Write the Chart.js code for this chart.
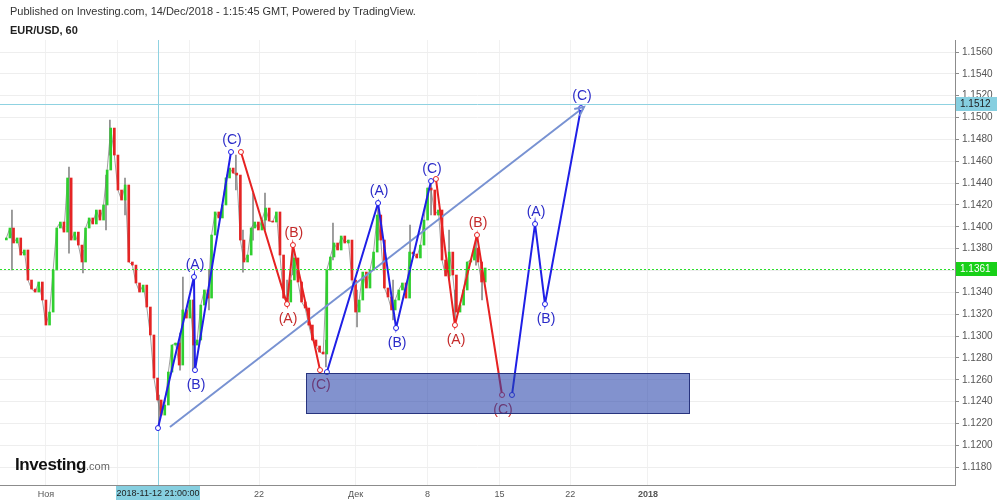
<!DOCTYPE html>
<html>
<head>
<meta charset="utf-8">
<title>EUR/USD, 60</title>
<script src="https://cdn.jsdelivr.net/npm/chart.js"></script>
<style>
  html, body { margin: 0; padding: 0; background: #fff; }
  #wrap { position: relative; width: 1000px; height: 503px; font-family: Arial, "Liberation Sans", sans-serif; }
  #chart { position: absolute; left: 0; top: 0; }
  .pub { position: absolute; left: 10px; top: 5px; font-size: 11px; line-height: 13px; color: #333; }
  .sym { position: absolute; left: 10px; top: 24px; font-size: 11px; line-height: 13px; font-weight: bold; color: #222; }
  .logo { position: absolute; left: 15px; top: 455px; font-size: 17px; line-height: 20px; font-weight: bold; color: #111; letter-spacing: -0.4px; }
  .logo span { font-size: 11px; font-weight: normal; color: #666; letter-spacing: 0; }
</style>
</head>
<body>
<div id="wrap">
  <canvas id="chart" width="1000" height="503"></canvas>
  <div class="pub">Published on Investing.com, 14/Dec/2018 - 1:15:45 GMT, Powered by TradingView.</div>
  <div class="sym">EUR/USD, 60</div>
  <div class="logo">Investing<span>.com</span></div>
</div>
<script>
// x unit = trading days counted from 1 Nov 2018 (weekends are skipped like on the source chart)
const xMin = -3.19;
const xMax = 63.12;
const yMin = 1.11637;
const yMax = 1.15710;

const xTickDays = [0, 5, 10, 14.8, 21.5, 26.5, 31.5, 36.4, 41.8];
const xTickLabels = ['Ноя', '', '', '22', 'Дек', '8', '15', '22', '2018'];
const yTicks = [1.118, 1.120, 1.122, 1.124, 1.126, 1.128, 1.130, 1.132, 1.134, 1.136, 1.138,
                1.140, 1.142, 1.144, 1.146, 1.148, 1.150, 1.152, 1.154, 1.156];

// price at 6-hour steps
const candleStart = -2.75;
const candleStep = 0.25;
const firstOpen = 1.1388;
const closes = [
  1.13898, 1.13989, 1.13852, 1.13898, 1.13742, 1.13788, 1.13513, 1.13431, 1.13403, 1.13495,
  1.13330, 1.13101, 1.13220, 1.13605, 1.13989, 1.14044, 1.13952, 1.14447, 1.13879, 1.13952,
  1.13833, 1.13678, 1.13989, 1.14081, 1.14026, 1.14154, 1.14062, 1.14200, 1.14520, 1.14904,
  1.14657, 1.14337, 1.14245, 1.14383, 1.13678, 1.13650, 1.13486, 1.13403, 1.13467, 1.13266,
  1.13010, 1.12616, 1.12415, 1.12277, 1.12369, 1.12671, 1.12918, 1.12936, 1.12735, 1.13239,
  1.13165, 1.13330, 1.12918, 1.12964, 1.13284, 1.13422, 1.13348, 1.13925, 1.14136, 1.14081,
  1.14200, 1.14447, 1.14538, 1.14492, 1.14474, 1.13879, 1.13678, 1.13742, 1.13989, 1.14044,
  1.13971, 1.14062, 1.14172, 1.14053, 1.14044, 1.14136, 1.13742, 1.13348, 1.13312, 1.13513,
  1.13715, 1.13495, 1.13312, 1.13257, 1.13101, 1.12964, 1.12909, 1.12854, 1.12836, 1.13605,
  1.13724, 1.13852, 1.13788, 1.13916, 1.13852, 1.13879, 1.13513, 1.13220, 1.13330, 1.13586,
  1.13440, 1.13605, 1.13769, 1.14108, 1.13879, 1.13440, 1.13358, 1.13239, 1.13330, 1.13422,
  1.13486, 1.13348, 1.13769, 1.13751, 1.13715, 1.13833, 1.14062, 1.14355, 1.14337, 1.14108,
  1.14154, 1.13696, 1.13550, 1.13769, 1.13559, 1.13220, 1.13284, 1.13422, 1.13678, 1.13696,
  1.13806, 1.13678, 1.13495, 1.13623
];

// the longer wicks
const wickDays  = [-2.36, 1.60, 2.57, 4.17, 4.44, 5.49, 7.85, 9.31, 9.51, 10.21, 11.32, 13.19, 13.68, 14.38,
                   15.21, 16.74, 17.15, 19.44, 19.93, 21.60, 23.06, 24.10, 25.28, 26.74, 27.99, 28.40, 29.86, 30.28];
const wickLows  = [1.13605, 1.13760, 1.13577, 1.13971, 1.14657, 1.14108, 1.12168, 1.12689, 1.13147, 1.12689,
                   1.13239, 1.14337, 1.13586, 1.13879, 1.13971, 1.13303, 1.13559, 1.12717, 1.13696, 1.13083,
                   1.13879, 1.13147, 1.13513, 1.14108, 1.13513, 1.13120, 1.13650, 1.13330];
const wickHighs = [1.14154, 1.14547, 1.13788, 1.14474, 1.14978, 1.14447, 1.12461, 1.13028, 1.13541, 1.13330,
                   1.13605, 1.14657, 1.13971, 1.14309, 1.14309, 1.13513, 1.13815, 1.12964, 1.14035, 1.13422,
                   1.14218, 1.13513, 1.14016, 1.14410, 1.13971, 1.13422, 1.13916, 1.13650];

// Elliott wave counts
const blueWaveDays = [[7.78, 10.28, 10.35, 12.85], [19.51, 23.06, 24.31, 26.74], [32.36, 33.96, 34.65, 37.15]];
const blueWavePrices = [[1.12158, 1.13541, 1.12689, 1.14685], [1.12671, 1.14218, 1.13074, 1.14419], [1.12461, 1.14026, 1.13293, 1.15087]];
const redWaveDays = [[13.54, 16.74, 17.15, 19.03], [27.08, 28.40, 29.93, 31.67]];
const redWavePrices = [[1.14685, 1.13293, 1.13833, 1.12689], [1.14438, 1.13101, 1.13925, 1.12461]];
const waveLabels = ['', '(A)', '(B)', '(C)'];

const trendDays = [8.61, 37.36];
const trendPrices = [1.12168, 1.15097];

const zoneDays = [18.06, 44.65];
const zonePrices = [1.12296, 1.12662];

const lastPrice = 1.1361;
const targetPrice = 1.1512;
const crosshairDay = 7.78;
const crosshairLabel = '2018-11-12 21:00:00';

const BLUE = '#1f1fe6';
const RED = '#e62222';
const BLUE_TEXT = '#2b2bc8';
const RED_TEXT = '#c42a2a';

// candles
const bodies = closes.map((c, i) => ({ x: candleStart + i * candleStep, y: [i ? closes[i - 1] : firstOpen, c] }));
const bodyColors = bodies.map(b => b.y[1] >= b.y[0] ? '#2fcf2f' : '#e42525');
const wicks = wickDays.map((d, i) => ({ x: d, y: [wickLows[i], wickHighs[i]] }));

function waveDataset(days, prices, color) {
  return {
    type: 'line',
    data: days.map((d, i) => ({ x: d, y: prices[i] })),
    borderColor: color,
    borderWidth: 2,
    pointRadius: 2.5,
    pointBackgroundColor: '#fff',
    pointBorderColor: color,
    pointBorderWidth: 1,
    tension: 0,
    order: 0,
  };
}

function hline(ctx, x1, x2, y) {
  ctx.beginPath(); ctx.moveTo(x1, y); ctx.lineTo(x2, y); ctx.stroke();
}

function priceBox(ctx, x, y, text, bg, fg) {
  ctx.fillStyle = bg;
  ctx.fillRect(x, Math.round(y) - 7, 41, 14);
  ctx.fillStyle = fg;
  ctx.font = '10px Arial';
  ctx.textAlign = 'left';
  ctx.textBaseline = 'middle';
  ctx.fillText(text, x + 4, Math.round(y) + 0.5);
}

const overlay = {
  id: 'overlay',
  beforeDatasetsDraw(chart) {
    const { ctx, chartArea: a, scales: { x, y } } = chart;
    ctx.save();
    ctx.strokeStyle = '#8fd2e1';
    ctx.lineWidth = 1;
    const cx = Math.round(x.getPixelForValue(crosshairDay)) + 0.5;
    ctx.beginPath(); ctx.moveTo(cx, a.top); ctx.lineTo(cx, a.bottom); ctx.stroke();
    hline(ctx, a.left, a.right, Math.round(y.getPixelForValue(targetPrice)) + 0.5);
    ctx.restore();
  },
  afterDatasetsDraw(chart) {
    const { ctx, chartArea: a, scales: { x, y } } = chart;
    ctx.save();

    // last price level
    ctx.strokeStyle = '#2be02b';
    ctx.lineWidth = 1;
    ctx.setLineDash([2, 2]);
    hline(ctx, a.left, a.right, Math.round(y.getPixelForValue(lastPrice)) + 0.5);
    ctx.setLineDash([]);

    // arrow head of the trend line
    const x1 = x.getPixelForValue(trendDays[0]), y1 = y.getPixelForValue(trendPrices[0]);
    const x2 = x.getPixelForValue(trendDays[1]), y2 = y.getPixelForValue(trendPrices[1]);
    const ang = Math.atan2(y2 - y1, x2 - x1);
    ctx.strokeStyle = '#7892d2';
    ctx.lineWidth = 2;
    ctx.beginPath();
    ctx.moveTo(x2 - 10 * Math.cos(ang - 0.45), y2 - 10 * Math.sin(ang - 0.45));
    ctx.lineTo(x2, y2);
    ctx.lineTo(x2 - 10 * Math.cos(ang + 0.45), y2 - 10 * Math.sin(ang + 0.45));
    ctx.stroke();

    // wave labels
    ctx.font = '14px Arial';
    ctx.textAlign = 'center';
    ctx.textBaseline = 'middle';
    const label = (days, prices, color) => {
      ctx.fillStyle = color;
      for (let i = 1; i < days.length; i++) {
        const px = x.getPixelForValue(days[i]);
        const py = y.getPixelForValue(prices[i]);
        const up = prices[i] > prices[i - 1];
        ctx.fillText(waveLabels[i], px + 1, up ? py - 12 : py + 15);
      }
    };
    blueWaveDays.forEach((d, i) => label(d, blueWavePrices[i], BLUE_TEXT));
    redWaveDays.forEach((d, i) => label(d, redWavePrices[i], RED_TEXT));

    // target zone
    const zx = Math.round(x.getPixelForValue(zoneDays[0])) + 0.5;
    const zr = Math.round(x.getPixelForValue(zoneDays[1])) + 0.5;
    const zt = Math.round(y.getPixelForValue(zonePrices[1])) + 0.5;
    const zb = Math.round(y.getPixelForValue(zonePrices[0])) + 0.5;
    ctx.fillStyle = 'rgba(40, 68, 170, 0.58)';
    ctx.fillRect(zx, zt, zr - zx, zb - zt);
    ctx.strokeStyle = '#28347e';
    ctx.lineWidth = 1;
    ctx.strokeRect(zx, zt, zr - zx, zb - zt);
    ctx.restore();
  },
  afterDraw(chart) {
    const { ctx, chartArea: a, scales: { x, y } } = chart;
    ctx.save();
    priceBox(ctx, a.right + 1, y.getPixelForValue(targetPrice), targetPrice.toFixed(4), '#86cfe0', '#1d1d1d');
    priceBox(ctx, a.right + 1, y.getPixelForValue(lastPrice), lastPrice.toFixed(4), '#18d018', '#ffffff');

    const cx = Math.round(x.getPixelForValue(crosshairDay));
    ctx.fillStyle = '#86cfe0';
    ctx.fillRect(cx - 42, a.bottom + 1, 84, 14);
    ctx.fillStyle = '#1d1d1d';
    ctx.font = '9px Arial';
    ctx.textAlign = 'center';
    ctx.textBaseline = 'middle';
    ctx.fillText(crosshairLabel, cx, a.bottom + 8.5);
    ctx.restore();
  }
};

new Chart(document.getElementById('chart').getContext('2d'), {
  type: 'bar',
  data: {
    datasets: [
      ...blueWaveDays.map((d, i) => waveDataset(d, blueWavePrices[i], BLUE)),
      ...redWaveDays.map((d, i) => waveDataset(d, redWavePrices[i], RED)),
      {
        type: 'line',
        data: trendDays.map((d, i) => ({ x: d, y: trendPrices[i] })),
        borderColor: '#7892d2',
        borderWidth: 2,
        pointRadius: 0,
        order: 1,
      },
      {
        data: bodies,
        backgroundColor: bodyColors,
        barThickness: 2,
        grouped: false,
        order: 2,
      },
      {
        type: 'line',
        data: closes.map((c, i) => ({ x: candleStart + i * candleStep, y: c })),
        borderColor: 'rgba(120, 120, 120, 0.7)',
        borderWidth: 1,
        pointRadius: 0,
        tension: 0,
        order: 3,
      },
      {
        data: wicks,
        backgroundColor: '#8a8a8a',
        barThickness: 1,
        grouped: false,
        order: 4,
      },
    ],
  },
  options: {
    responsive: false,
    animation: false,
    events: [],
    layout: { autoPadding: false, padding: { top: 40, left: 0, right: 0, bottom: 0 } },
    plugins: { legend: { display: false }, tooltip: { enabled: false } },
    scales: {
      x: {
        type: 'linear',
        min: xMin,
        max: xMax,
        bounds: 'data',
        offset: false,
        grid: { color: '#f1f1f1', drawTicks: false, offset: false },
        border: { display: true, color: '#8c8c8c' },
        ticks: {
          autoSkip: false,
          maxRotation: 0,
          padding: 4,
          color: '#555',
          font: ctx => ({ family: 'Arial', size: 9, weight: ctx.tick && ctx.tick.label === '2018' ? 'bold' : 'normal' }),
          callback: (v, i) => xTickLabels[i],
        },
        afterBuildTicks: s => { s.ticks = xTickDays.map(v => ({ value: v })); },
        afterFit: s => { s.height = 18; s.paddingLeft = 0; s.paddingRight = 0; },
      },
      y: {
        type: 'linear',
        position: 'right',
        min: yMin,
        max: yMax,
        bounds: 'data',
        grid: { color: '#eeeeee', tickColor: '#8c8c8c', tickLength: 4 },
        border: { display: true, color: '#8c8c8c' },
        ticks: {
          padding: 3,
          color: '#555',
          font: { family: 'Arial', size: 10 },
          callback: v => v.toFixed(4),
        },
        afterBuildTicks: s => { s.ticks = yTicks.map(v => ({ value: v })); },
        afterFit: s => { s.width = 45; s.paddingTop = 0; s.paddingBottom = 0; },
      },
    },
  },
  plugins: [overlay],
});
</script>
</body>
</html>
